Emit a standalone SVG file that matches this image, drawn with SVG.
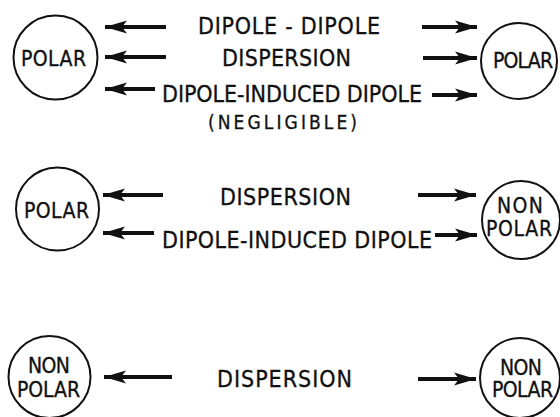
<svg xmlns="http://www.w3.org/2000/svg" width="560" height="417" viewBox="0 0 560 417">
  <defs>
    <style>
      .node circle { fill: #fff; stroke: #111; stroke-width: 2; }
      .node text { font-family: 'DejaVu Sans Condensed', 'DejaVu Sans', sans-serif; font-stretch: condensed; font-size: 21px; fill: #111; stroke: #111; stroke-width: 0.3; }
      .label text { font-family: 'DejaVu Sans Condensed', 'DejaVu Sans', sans-serif; font-stretch: condensed; font-size: 23px; fill: #111; stroke: #111; stroke-width: 0.3; }
      .label text.small { font-size: 19px; }
      .conn line { stroke: #111; stroke-width: 4; }
      .conn .l { marker-start: url(#headL); }
      .conn .r { marker-end: url(#headR); }
    </style>
    <marker id="headR" markerUnits="userSpaceOnUse" markerWidth="24" markerHeight="16" refX="22" refY="8" orient="auto">
      <path d="M0,1.5 L22,8 L0,14.5 L5,8 Z" fill="#111"/>
    </marker>
    <marker id="headL" markerUnits="userSpaceOnUse" markerWidth="24" markerHeight="16" refX="0" refY="8" orient="auto">
      <path d="M22,1.5 L0,8 L22,14.5 L17,8 Z" fill="#111"/>
    </marker>
  </defs>
  <rect width="560" height="417" fill="#fff"/>

  <!-- interaction connectors -->
  <g id="connectors" class="conn">
    <!-- polar / polar -->
    <line class="l" x1="105" y1="27" x2="166" y2="27"/>
    <line class="l" x1="105" y1="57" x2="166" y2="57"/>
    <line class="l" x1="105" y1="89" x2="155" y2="89"/>
    <line class="r" x1="422" y1="27" x2="477" y2="27"/>
    <line class="r" x1="423" y1="58" x2="477" y2="58"/>
    <line class="r" x1="432" y1="95" x2="477" y2="95"/>
    <!-- polar / non polar -->
    <line class="l" x1="103" y1="195" x2="163" y2="195"/>
    <line class="l" x1="103" y1="233" x2="154" y2="233"/>
    <line class="r" x1="418" y1="195" x2="476" y2="195"/>
    <line class="r" x1="435" y1="235" x2="477" y2="235"/>
    <!-- non polar / non polar -->
    <line class="l" x1="104" y1="377" x2="172" y2="377"/>
    <line class="r" x1="418" y1="379" x2="476" y2="379"/>
  </g>

  <!-- interaction labels -->
  <g id="labels" class="label">
    <text x="198" y="34" textLength="182" lengthAdjust="spacing">DIPOLE - DIPOLE</text>
    <text x="222" y="66" textLength="129" lengthAdjust="spacing">DISPERSION</text>
    <text x="162" y="102" textLength="260" lengthAdjust="spacing">DIPOLE-INDUCED DIPOLE</text>
    <text class="small" x="208" y="129" textLength="149" lengthAdjust="spacing">(NEGLIGIBLE)</text>
    <text x="220" y="205" textLength="131" lengthAdjust="spacing">DISPERSION</text>
    <text x="162" y="248" textLength="270" lengthAdjust="spacing">DIPOLE-INDUCED DIPOLE</text>
    <text x="217" y="387" textLength="135" lengthAdjust="spacing">DISPERSION</text>
  </g>

  <g id="polar-a" class="node">
    <circle cx="55.5" cy="57.5" r="42"/>
    <text x="21" y="66" textLength="65" lengthAdjust="spacing">POLAR</text>
  </g>
  <g id="polar-b" class="node">
    <circle cx="519" cy="61" r="38"/>
    <text x="493" y="68" textLength="60" lengthAdjust="spacing">POLAR</text>
  </g>
  <g id="polar-c" class="node">
    <circle cx="57.5" cy="209" r="41.5"/>
    <text x="24" y="218" textLength="65" lengthAdjust="spacing">POLAR</text>
  </g>
  <g id="nonpolar-a" class="node">
    <circle cx="521" cy="220" r="39"/>
    <text x="497" y="213" textLength="46" lengthAdjust="spacing">NON</text>
    <text x="486" y="236" textLength="66" lengthAdjust="spacing">POLAR</text>
  </g>
  <g id="nonpolar-b" class="node">
    <circle cx="49.5" cy="377" r="41"/>
    <text x="28" y="373" textLength="42" lengthAdjust="spacing">NON</text>
    <text x="17" y="397" textLength="63" lengthAdjust="spacing">POLAR</text>
  </g>
  <g id="nonpolar-c" class="node">
    <circle cx="520" cy="378" r="40"/>
    <text x="500" y="375" textLength="42" lengthAdjust="spacing">NON</text>
    <text x="492" y="397" textLength="61" lengthAdjust="spacing">POLAR</text>
  </g>
</svg>
